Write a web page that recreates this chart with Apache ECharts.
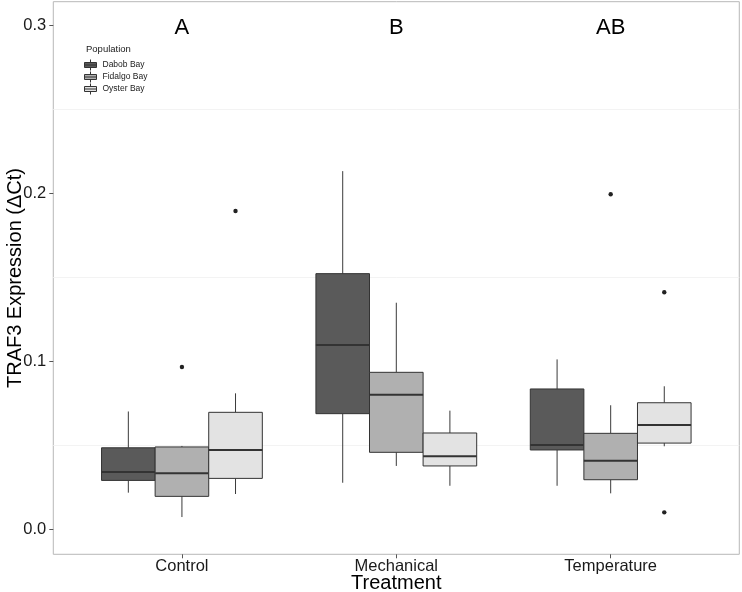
<!DOCTYPE html>
<html>
<head>
<meta charset="utf-8">
<script src="https://cdn.jsdelivr.net/npm/echarts@6/dist/echarts.min.js"></script>
<style>
html,body{margin:0;padding:0;background:#fff;}
#chart{width:742px;height:592px;}
</style>
</head>
<body>
<div id="chart"></div>
<script>
// ---- data ----
const categories = ['Control', 'Mechanical', 'Temperature'];
const populations = ['Dabob Bay', 'Fidalgo Bay', 'Oyster Bay'];
// [lowerWhisker, Q1, median, Q3, upperWhisker] per category
const dabobStats = [
  [0.0218, 0.0291, 0.0341, 0.0485, 0.0701],
  [0.0277, 0.0688, 0.1096, 0.1521, 0.2131],
  [0.0259, 0.0472, 0.0501, 0.0835, 0.1011]
];
const fidalgoStats = [
  [0.0073, 0.0196, 0.0333, 0.0490, 0.0496],
  [0.0377, 0.0458, 0.0801, 0.0934, 0.1348],
  [0.0214, 0.0295, 0.0408, 0.0571, 0.0738]
];
const oysterStats = [
  [0.0210, 0.0303, 0.0472, 0.0696, 0.0809],
  [0.0259, 0.0377, 0.0434, 0.0573, 0.0706],
  [0.0494, 0.0513, 0.0620, 0.0753, 0.0851]
];
// outliers: [categoryIndex, value]
const dabobOutliers = [];
const fidalgoOutliers = [[0, 0.0966], [2, 0.1993]];
const oysterOutliers = [[0, 0.1894], [2, 0.1410], [2, 0.0101]];
const groupLetters = ['A', 'B', 'AB'];
const letterLevel = 0.3;
const yTicks = [0, 0.1, 0.2, 0.3];
const faintGrid = [0.05, 0.15, 0.25];

// ---- style ----
const FONT = "'Liberation Sans', Helvetica, Arial, sans-serif";
const fills = ['#5a5a5a', '#b0b0b0', '#e3e3e3'];
const EDGE = '#333333';
const BOX_FRAC = 0.25;

const chart = echarts.init(document.getElementById('chart'), null, {renderer: 'canvas'});

function boxRenderer(k) {
  return function (params, api) {
    const x = api.value(0);
    const bw = api.size([1, 0])[0] * BOX_FRAC;
    const cx = api.coord([x + (k - 1) * BOX_FRAC, 0])[0];
    const yMin = api.coord([x, api.value(1)])[1];
    const yQ1 = api.coord([x, api.value(2)])[1];
    const yMed = api.coord([x, api.value(3)])[1];
    const yQ3 = api.coord([x, api.value(4)])[1];
    const yMax = api.coord([x, api.value(5)])[1];
    return {
      type: 'group',
      children: [
        {type: 'line', shape: {x1: cx, y1: yQ3, x2: cx, y2: yMax}, style: {stroke: '#3a3a3a', lineWidth: 1}},
        {type: 'line', shape: {x1: cx, y1: yQ1, x2: cx, y2: yMin}, style: {stroke: '#3a3a3a', lineWidth: 1}},
        {type: 'rect', shape: {x: cx - bw / 2, y: yQ3, width: bw, height: yQ1 - yQ3},
          style: {fill: fills[k], stroke: EDGE, lineWidth: 1}},
        {type: 'line', shape: {x1: cx - bw / 2, y1: yMed, x2: cx + bw / 2, y2: yMed},
          style: {stroke: EDGE, lineWidth: 2}}
      ]
    };
  };
}
function outlierRenderer(k) {
  return function (params, api) {
    const x = api.value(0);
    const p = api.coord([x + (k - 1) * BOX_FRAC, api.value(1)]);
    return {type: 'circle', shape: {cx: p[0], cy: p[1], r: 2.2}, style: {fill: '#222'}};
  };
}

const statsList = [dabobStats, fidalgoStats, oysterStats];
const outlierList = [dabobOutliers, fidalgoOutliers, oysterOutliers];
const series = [];
populations.forEach(function (name, k) {
  series.push({
    type: 'custom', name: name, z: 3,
    itemStyle: {color: fills[k], borderColor: EDGE, borderWidth: 1},
    renderItem: boxRenderer(k),
    encode: {x: 0, y: [1, 2, 3, 4, 5]},
    data: statsList[k].map(function (s, i) { return [i].concat(s); })
  });
  series.push({
    type: 'custom', name: name, z: 4,
    itemStyle: {color: fills[k], borderColor: EDGE, borderWidth: 1},
    renderItem: outlierRenderer(k),
    encode: {x: 0, y: 1},
    data: outlierList[k]
  });
});
series.push({
  type: 'custom', z: 5, silent: true,
  renderItem: function (params, api) {
    const p = api.coord([api.value(0), api.value(1)]);
    return {type: 'text', x: p[0], y: p[1] + 2.5,
      style: {text: groupLetters[params.dataIndex], fontSize: 22, fontFamily: FONT, fill: '#000',
        align: 'center', verticalAlign: 'middle'}};
  },
  encode: {x: 0, y: 1},
  data: categories.map(function (c, i) { return [i, letterLevel]; }),
  markLine: {
    silent: true, symbol: 'none', z: 1,
    label: {show: false},
    lineStyle: {color: '#f3f3f3', width: 1, type: 'solid'},
    data: faintGrid.map(function (v) { return {yAxis: v}; })
  }
});

const option = {
  backgroundColor: '#fff',
  animation: false,
  textStyle: {fontFamily: FONT},
  title: {
    text: 'Population', left: 86, top: 44, padding: 0,
    textStyle: {fontSize: 9.5, fontWeight: 'normal', color: '#1a1a1a', fontFamily: FONT}
  },
  legend: {
    data: populations,
    orient: 'vertical', left: 84, top: 59, padding: 0,
    itemWidth: 14, itemHeight: 11, itemGap: 0,
    icon: 'path://M1,3H13V8H1Z M1,5.5H13 M7,0V3 M7,8V11',
    itemStyle: {borderColor: EDGE, borderWidth: 1},
    textStyle: {fontSize: 8.5, lineHeight: 10, color: '#1a1a1a', fontFamily: FONT},
    selectedMode: false
  },
  grid: {
    left: 53.3, right: 2.7, top: 1.7, bottom: 37.7,
    outerBoundsMode: 'none', containLabel: false,
    show: true, borderColor: '#b8b8b8', borderWidth: 1, backgroundColor: '#fff'
  },
  xAxis: {
    type: 'value', min: -0.6, max: 2.6,
    name: 'Treatment', nameLocation: 'middle', nameGap: 19, nameMoveOverlap: false,
    nameTextStyle: {fontSize: 20, color: '#000', fontFamily: FONT, verticalAlign: 'top'},
    axisLine: {show: false, onZero: false},
    splitLine: {show: false},
    axisTick: {show: true, customValues: [0, 1, 2], length: 4, lineStyle: {color: '#555'}},
    axisLabel: {customValues: [0, 1, 2], margin: 4, fontSize: 16.5, color: '#1a1a1a', fontFamily: FONT,
      formatter: function (v) { return categories[Math.round(v)]; }}
  },
  yAxis: {
    type: 'value', min: -0.01487, max: 0.3139,
    name: 'TRAF3 Expression (\u0394Ct)', nameLocation: 'middle', nameGap: 28, nameMoveOverlap: false,
    nameTextStyle: {fontSize: 20, color: '#000', fontFamily: FONT},
    axisLine: {show: false, onZero: false},
    splitLine: {show: false},
    axisTick: {show: true, customValues: yTicks, length: 4, lineStyle: {color: '#555'}},
    axisLabel: {customValues: yTicks, margin: 7, fontSize: 16.5, color: '#1a1a1a', fontFamily: FONT,
      formatter: function (v) { return v.toFixed(1); }}
  },
  series: series
};
chart.setOption(option);
</script>
</body>
</html>
